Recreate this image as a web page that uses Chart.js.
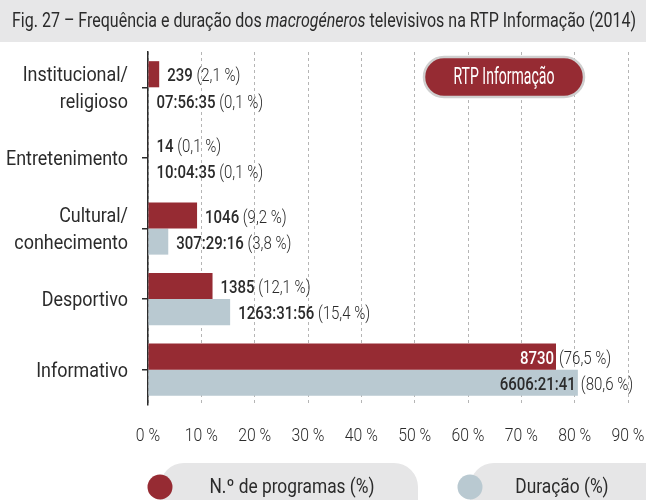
<!DOCTYPE html>
<html>
<head>
<meta charset="utf-8">
<script src="https://cdn.jsdelivr.net/npm/chart.js@4.4.1/dist/chart.umd.min.js"></script>
<style>
  html, body { margin: 0; padding: 0; background: #fff; }
  #wrap { width: 646px; height: 500px; position: relative; }
</style>
</head>
<body>
<div id="wrap"><canvas id="chart1"></canvas></div>
<script>
"use strict";

// data
var categories = [["Institucional/", "religioso"], "Entretenimento", ["Cultural/", "conhecimento"], "Desportivo", "Informativo"];
var programShare = [2.1, 0.1, 9.2, 12.1, 76.5];
var durationShare = [0.1, 0.1, 3.8, 15.4, 80.6];
var programCounts = ["239", "14", "1046", "1385", "8730"];
var durationTimes = ["07:56:35", "10:04:35", "307:29:16", "1263:31:56", "6606:21:41"];
var seriesNames = ["N.º de programas (%)", "Duração (%)"];
var axisMax = 90;

// no condensed font in the sandbox, so text gets squeezed horizontally
var FONT = 'Roboto, "Noto Sans", sans-serif';
var RED = '#962b33';
var BLUE = '#b9c9d1';
var INK = '#2b2b2b';

function pct(v) { return '(' + v.toFixed(1).replace('.', ',') + ' %)'; }

function squeeze(ctx, text, font, target) {
  ctx.font = font;
  return target / ctx.measureText(text).width;
}

// draw text squeezed by sx, anchored at x
function drawText(ctx, text, x, y, font, sx, align, color) {
  ctx.save();
  ctx.font = font;
  ctx.fillStyle = color || INK;
  ctx.textBaseline = 'middle';
  var w = ctx.measureText(text).width * sx;
  var left = align === 'right' ? x - w : (align === 'center' ? x - w / 2 : x);
  ctx.translate(left, y);
  ctx.scale(sx, 1);
  ctx.textAlign = 'left';
  ctx.fillText(text, 0, 0);
  ctx.restore();
  return w;
}

var decorations = {
  id: 'decorations',
  beforeDraw: function(chart) {
    var ctx = chart.ctx;
    ctx.save();
    ctx.fillStyle = '#e7e7e8';
    ctx.fillRect(0, 0, chart.width, 42);
    var parts = [
      ['normal 20px ' + FONT, 'Fig. 27 – Frequência e duração dos '],
      ['italic 20px ' + FONT, 'macrogéneros'],
      ['normal 20px ' + FONT, ' televisivos na RTP Informação (2014)']
    ];
    var total = 0;
    parts.forEach(function(p) { ctx.font = p[0]; total += ctx.measureText(p[1]).width; });
    var sx = 624 / total;
    var x = 12;
    parts.forEach(function(p) { x += drawText(ctx, p[1], x, 22, p[0], sx, 'left'); });
    ctx.restore();
  },
  afterDatasetsDraw: function(chart) {
    var ctx = chart.ctx;
    var area = chart.chartArea;
    var bold = '500 19px ' + FONT;
    var norm = '300 19px ' + FONT;
    ctx.save();
    ctx.font = bold;
    var wb = ctx.measureText('1263:31:56').width;
    ctx.font = norm;
    var wn = ctx.measureText(' (15,4 %)').width;
    var sx = 132 / (wb + wn);

    var texts = [programCounts, durationTimes];
    var shares = [programShare, durationShare];
    for (var d = 0; d < 2; d++) {
      var meta = chart.getDatasetMeta(d);
      meta.data.forEach(function(bar, i) {
        var y = bar.y + 2.5;
        if (shares[d][i] > 50) {
          drawText(ctx, texts[d][i], bar.x - 2, y, bold, sx, 'right', d === 0 ? '#ffffff' : INK);
          drawText(ctx, pct(shares[d][i]), bar.x + 3, y, norm, sx, 'left');
        } else {
          var x0 = Math.max(bar.x, area.left) + 8;
          x0 += drawText(ctx, texts[d][i], x0, y, bold, sx, 'left');
          drawText(ctx, ' ' + pct(shares[d][i]), x0, y, norm, sx, 'left');
        }
      });
    }

    // category labels, placed on the y scale
    var ys = chart.scales.y;
    var catFont = 'normal 20px ' + FONT;
    var csx = squeeze(ctx, 'Entretenimento', catFont, 122);
    categories.forEach(function(c, i) {
      var cy = ys.getPixelForValue(i) + 2;
      var lines = Array.isArray(c) ? c : [c];
      lines.forEach(function(line, k) {
        var ly = cy + (k - (lines.length - 1) / 2) * 27;
        drawText(ctx, line, area.left - 20, ly, catFont, csx, 'right');
      });
    });

    // value ticks, placed on the x scale
    var xs = chart.scales.x;
    var tickFont = '300 19px ' + FONT;
    var tsx = squeeze(ctx, '90 %', tickFont, 33);
    xs.ticks.forEach(function(t) {
      drawText(ctx, t.value + ' %', xs.getPixelForValue(t.value), 436, tickFont, tsx, 'center');
    });

    // RTP badge
    ctx.beginPath();
    ctx.roundRect(424, 57, 160, 40, 20);
    ctx.fillStyle = RED;
    ctx.fill();
    ctx.lineWidth = 2.5;
    ctx.strokeStyle = '#cfcfcf';
    ctx.stroke();
    var badgeFont = 'normal 23px ' + FONT;
    drawText(ctx, 'RTP Informação', 504, 78, badgeFont, squeeze(ctx, 'RTP Informação', badgeFont, 101), 'center', '#ffffff');

    // legend pills
    var legFont = 'normal 20px ' + FONT;
    var lsx = squeeze(ctx, seriesNames[0], legFont, 165);
    var pills = [
      { x0: 160, x1: 418, cx: 160, color: RED, tx: 292 },
      { x0: 470, x1: 700, cx: 470, color: BLUE, tx: 562 }
    ];
    pills.forEach(function(p, k) {
      ctx.beginPath();
      ctx.roundRect(p.x0, 463, p.x1 - p.x0, 60, 24);
      ctx.fillStyle = '#e6e6e7';
      ctx.fill();
      ctx.beginPath();
      ctx.arc(p.cx, 487, 12.5, 0, Math.PI * 2);
      ctx.fillStyle = p.color;
      ctx.fill();
      drawText(ctx, seriesNames[k], p.tx, 488, legFont, lsx, 'center');
    });
    ctx.restore();
  }
};

var ctx = document.getElementById('chart1').getContext('2d');

var myChart = new Chart(ctx, {
  type: 'bar',
  data: {
    labels: categories,
    datasets: [{
      label: seriesNames[0],
      data: programShare,
      backgroundColor: RED,
      borderWidth: 0
    }, {
      label: seriesNames[1],
      data: durationShare,
      backgroundColor: BLUE,
      borderWidth: 0
    }]
  },
  options: {
    indexAxis: 'y',
    responsive: true,
    maintainAspectRatio: false,
    animation: false,
    barPercentage: 1,
    categoryPercentage: 0.74,
    layout: { padding: { top: 52, right: 18, left: 0, bottom: 0 } },
    plugins: {
      legend: { display: false },
      tooltip: { enabled: false }
    },
    scales: {
      x: {
        min: 0,
        max: axisMax,
        afterFit: function(scale) { scale.height = 95; },
        ticks: { stepSize: 10, display: false },
        grid: { color: '#b5b5b5', drawTicks: false, lineWidth: 1 },
        border: { display: false, dash: [3, 3] }
      },
      y: {
        afterFit: function(scale) { scale.width = 148; },
        ticks: { display: false },
        grid: { drawOnChartArea: false, drawTicks: true, tickLength: 6, offset: false, color: INK, lineWidth: 1.5 },
        border: { display: true, color: INK, width: 1.5 }
      }
    }
  },
  plugins: [decorations]
});
</script>
</body>
</html>
